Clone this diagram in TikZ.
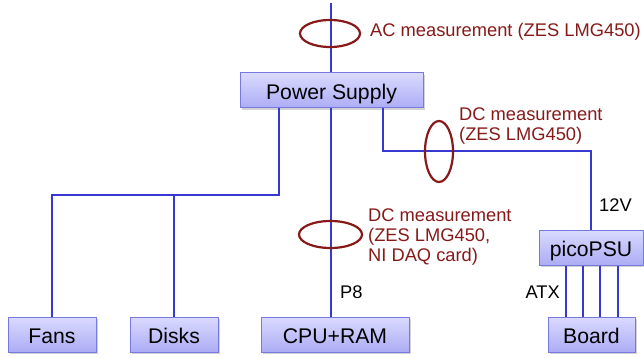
\documentclass[tikz,border=0pt]{standalone}
\usepackage{fontspec}
\setmainfont{Liberation Sans}
\usetikzlibrary{shapes.geometric,shadows}
\definecolor{wire}{RGB}{55,55,210}
\definecolor{meas}{RGB}{135,25,25}
\definecolor{boxtop}{RGB}{218,218,255}
\definecolor{boxbot}{RGB}{172,172,245}
\definecolor{boxline}{RGB}{120,120,225}
\tikzset{
  unit/.style={rectangle, draw=boxline, line width=1pt, top color=boxtop, bottom color=boxbot,
    minimum height=35pt, inner sep=0pt, text height=18pt, text depth=0pt,
    font=\fontsize{21.2}{25}\selectfont,
    drop shadow={shadow xshift=1.5pt, shadow yshift=-2pt, opacity=0.35, fill=gray}},
  wireline/.style={draw=wire, line width=2.6pt},
  probe/.style={ellipse, draw=meas, line width=2.2pt, inner sep=0pt},
  note/.style={text=meas, font=\fontsize{18.3}{20}\selectfont, align=left, inner sep=0pt, anchor=west},
  tag/.style={font=\fontsize{18.3}{20}\selectfont, inner sep=0pt}
}
\begin{document}
\begin{tikzpicture}[x=1pt,y=-1pt]
\useasboundingbox (0,0) rectangle (644,358);
% boxes
\node[unit, minimum width=183pt] (ps) at (331.5,90.5) {Power Supply};
\node[unit, minimum width=88pt] (fans) at (52,334.5) {Fans};
\node[unit, minimum width=88pt] (disks) at (174,334.5) {Disks};
\node[unit, minimum width=148pt] (cpu) at (335,334.5) {CPU+RAM};
\node[unit, minimum width=104pt] (pico) at (591,247.5) {picoPSU};
\node[unit, minimum width=87pt] (board) at (591.5,334.5) {Board};
\coordinate (top) at (331,3);
\coordinate (bus) at (279,195);
\coordinate (dcbend) at (383,151);
% wires
\draw[wireline] (top) -- (top |- ps.north);
\draw[wireline] (ps.south -| bus) -- (bus) -- (bus -| fans.north) -- (fans.north);
\draw[wireline] (bus -| disks.north) -- (disks.north);
\draw[wireline] (ps.south -| top) -- (cpu.north -| top);
\draw[wireline] (ps.south -| dcbend) -- (dcbend) -- (dcbend -| pico.north) -- (pico.north);
\foreach \x in {566,583,600,618}
  \draw[wireline] (pico.south -| \x,0) -- (board.north -| \x,0);
% probes
\node[probe, minimum width=60pt, minimum height=27pt] (acp) at (330,33.5) {};
\node[probe, minimum width=28pt, minimum height=61pt] (dcp) at (439,151.5) {};
\node[probe, minimum width=63pt, minimum height=27pt] (cpup) at (330.5,234.5) {};
% notes
\node[note] (acn) at (370,32) {AC measurement (ZES LMG450)};
\node[note] (dcn) at (459,126) {DC measurement\\(ZES LMG450)};
\node[note] (cpun) at (368,237) {DC measurement\\(ZES LMG450,\\NI DAQ card)};
\node[tag, anchor=west] (v12) at (599,205) {12V};
\node[tag, anchor=west] (p8) at (340,292) {P8};
\node[tag, anchor=east] (atx) at (560,292) {ATX};
\end{tikzpicture}
\end{document}
